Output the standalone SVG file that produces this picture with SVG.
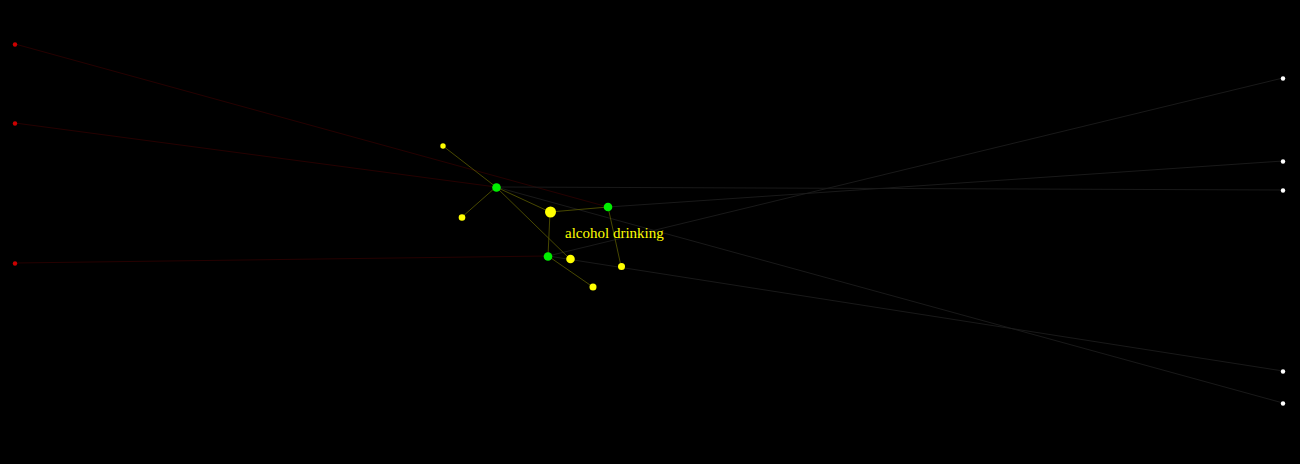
<svg xmlns="http://www.w3.org/2000/svg" width="1300" height="464" viewBox="0 0 1300 464">
<style>
.bg{fill:#000}
.ey{stroke:#5a5a00;stroke-width:0.8;fill:none}
.er{stroke:#2a0000;stroke-width:0.9;fill:none}
.eg{stroke:#1c1c1c;stroke-width:0.9;fill:none}
.ny{fill:#ffff00}
.ng{fill:#00ee00}
.nr{fill:#cc0000}
.nw{fill:#ffffff}
.lbl{font-family:"Liberation Serif","DejaVu Serif",serif;font-size:15px;fill:#ffff00}
</style>
<rect class="bg" x="0" y="0" width="1300" height="464"/>
<g id="connectors">
<line class="er" x1="15" y1="44" x2="608" y2="207"/>
<line class="er" x1="15" y1="123" x2="496" y2="187"/>
<line class="er" x1="15" y1="263" x2="548" y2="256"/>
<line class="eg" x1="548" y1="256" x2="1283" y2="78"/>
<line class="eg" x1="608" y1="207" x2="1283" y2="161"/>
<line class="eg" x1="496" y1="187" x2="1283" y2="190"/>
<line class="eg" x1="548" y1="256" x2="1283" y2="371"/>
<line class="eg" x1="496" y1="187" x2="1283" y2="403"/>
<line class="ey" x1="443" y1="146" x2="496" y2="187"/>
<line class="ey" x1="462" y1="217" x2="496" y2="187"/>
<line class="ey" x1="496" y1="187" x2="550" y2="212"/>
<line class="ey" x1="496" y1="187" x2="570" y2="259"/>
<line class="ey" x1="550" y1="212" x2="608" y2="207"/>
<line class="ey" x1="550" y1="212" x2="548" y2="256"/>
<line class="ey" x1="608" y1="207" x2="621" y2="266"/>
<line class="ey" x1="548" y1="256" x2="593" y2="287"/>
</g>
<g id="n-red1"><circle class="nr" cx="15" cy="44.5" r="2.2"/></g>
<g id="n-red2"><circle class="nr" cx="15" cy="123.5" r="2.2"/></g>
<g id="n-red3"><circle class="nr" cx="15" cy="263.5" r="2.2"/></g>
<g id="n-w1"><circle class="nw" cx="1283" cy="78.5" r="2.2"/></g>
<g id="n-w2"><circle class="nw" cx="1283" cy="161.5" r="2.2"/></g>
<g id="n-w3"><circle class="nw" cx="1283" cy="190.5" r="2.2"/></g>
<g id="n-w4"><circle class="nw" cx="1283" cy="371.5" r="2.2"/></g>
<g id="n-w5"><circle class="nw" cx="1283" cy="403.5" r="2.2"/></g>
<g id="n-y1"><circle class="ny" cx="443" cy="146" r="2.7"/></g>
<g id="n-y2"><circle class="ny" cx="462" cy="217.5" r="3.3"/></g>
<g id="n-y3"><circle class="ny" cx="570.5" cy="259" r="4.3"/></g>
<g id="n-y4"><circle class="ny" cx="593" cy="287" r="3.5"/></g>
<g id="n-y5"><circle class="ny" cx="621.5" cy="266.5" r="3.5"/></g>
<g id="n-g1"><circle class="ng" cx="496.5" cy="187.5" r="4.3"/></g>
<g id="n-g2"><circle class="ng" cx="608" cy="207" r="4.3"/></g>
<g id="n-g3"><circle class="ng" cx="548" cy="256.5" r="4.3"/></g>
<g id="n-alcohol"><circle class="ny" cx="550.5" cy="212" r="5.5"/><text class="lbl" x="565" y="238">alcohol drinking</text></g>
</svg>
